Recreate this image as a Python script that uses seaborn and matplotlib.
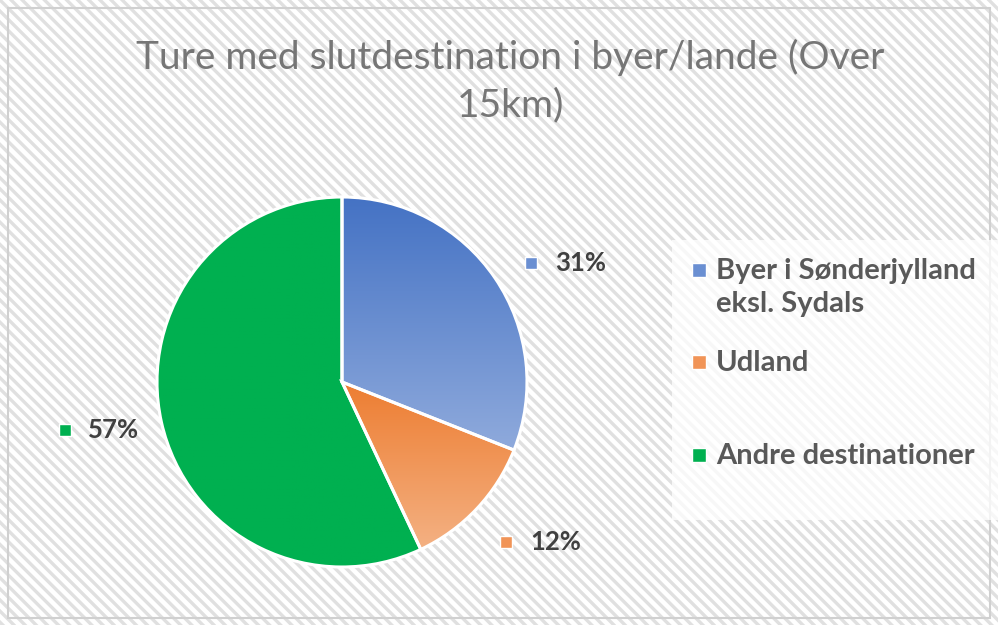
import numpy as np
import matplotlib
matplotlib.use("Agg")
import matplotlib.pyplot as plt
import seaborn as sns
from matplotlib.patches import Rectangle
from matplotlib.colors import LinearSegmentedColormap

# data
categories = ["Byer i Sønderjylland\neksl. Sydals", "Udland", "Andre destinationer"]
shares = [31, 12, 57]
pct_labels = ["31%", "12%", "57%"]
title = "Ture med slutdestination i byer/lande (Over\n15km)"

# gradient colours per slice (top, bottom)
grad = [("#4472C4", "#8FAADC"), ("#ED7D31", "#F4B183"), ("#00B050", "#00B050")]
solid = ["#6A8FD2", "#F19457", "#00B050"]

sns.set_theme(style="white")
plt.rcParams["font.family"] = ["Lato", "DejaVu Sans"]

fig = plt.figure(figsize=(9.98, 6.25), dpi=100)
W, H = 998, 625
plt.rcParams["hatch.linewidth"] = 2.4
bg = Rectangle((0, 0), 1, 1, transform=fig.transFigure, facecolor="white",
               edgecolor="#e0e0e0", hatch="\\\\\\", linewidth=0, zorder=-10)
fig.patches.append(bg)
frame = Rectangle((8 / W, 7 / H), 982 / W, 610 / H, transform=fig.transFigure,
                  fill=False, edgecolor="#d0d0d0", linewidth=1.5, zorder=-5)
fig.patches.append(frame)

# pie axes: centre at (342, 382) px, radius 185 px
cx, cy, R = 342, H - 382, 185
half = 300
ax = fig.add_axes([(cx - half) / W, (cy - half) / H, 2 * half / W, 2 * half / H])
ax.patch.set_alpha(0)
lim = half / R
ax.axis("off")

wedges, _ = ax.pie(shares, startangle=90, counterclock=False, colors=solid,
                   wedgeprops=dict(edgecolor="white", linewidth=2.2))

# vertical gradient fills clipped to each wedge
for w, (c_top, c_bot) in zip(wedges, grad):
    ext = w.get_path().get_extents()
    cmap = LinearSegmentedColormap.from_list("g", [c_top, c_bot])
    img = ax.imshow(np.linspace(0, 1, 256).reshape(-1, 1), cmap=cmap, aspect="auto",
                    extent=[ext.x0, ext.x1, ext.y0, ext.y1], origin="upper", zorder=w.get_zorder())
    img.set_clip_path(w)
    w.set_facecolor("none")
    w.set_zorder(w.get_zorder() + 0.1)
ax.set_xlim(-lim, lim)
ax.set_ylim(-lim, lim)

# data labels (placed like Excel's outside-end labels)
label_r = [1.44, 1.44, 1.26]
label_dang = [-7.6, 6.4, -0.7]
cum = np.cumsum([0] + shares)
for i, lab in enumerate(pct_labels):
    mid = np.deg2rad(90 - (cum[i] + shares[i] / 2) / 100 * 360 + label_dang[i])
    x, y = label_r[i] * np.cos(mid), label_r[i] * np.sin(mid)
    ax.text(x, y, lab, ha="center", va="center", fontsize=18.5, fontweight="bold", color="#404040")
    ax.plot([x - 0.265], [y], marker="s", markersize=8.5, color=solid[i],
            markeredgecolor="white", markeredgewidth=1, clip_on=False)

# title
fig.text(510 / W, 1 - 81 / H, title, ha="center", va="center", fontsize=28,
         color="#767676", linespacing=1.4)

# legend panel
fig.patches.append(Rectangle((672 / W, 1 - 520 / H), 326 / W, 280 / H, transform=fig.transFigure,
                             facecolor="white", alpha=0.75, edgecolor="none", zorder=-4))
leg_y = [270, 362, 455]
for lab, c, y in zip(categories, solid, leg_y):
    fig.patches.append(Rectangle((692 / W, 1 - (y + 7) / H), 14 / W, 14 / H,
                                 transform=fig.transFigure, facecolor=c,
                                 edgecolor="white", linewidth=1))
    fig.text(716 / W, 1 - (y - 12) / H, lab, ha="left", va="top", fontsize=21,
             fontweight="bold", color="#595959", linespacing=1.32)

fig.savefig("out.png", dpi=100)
